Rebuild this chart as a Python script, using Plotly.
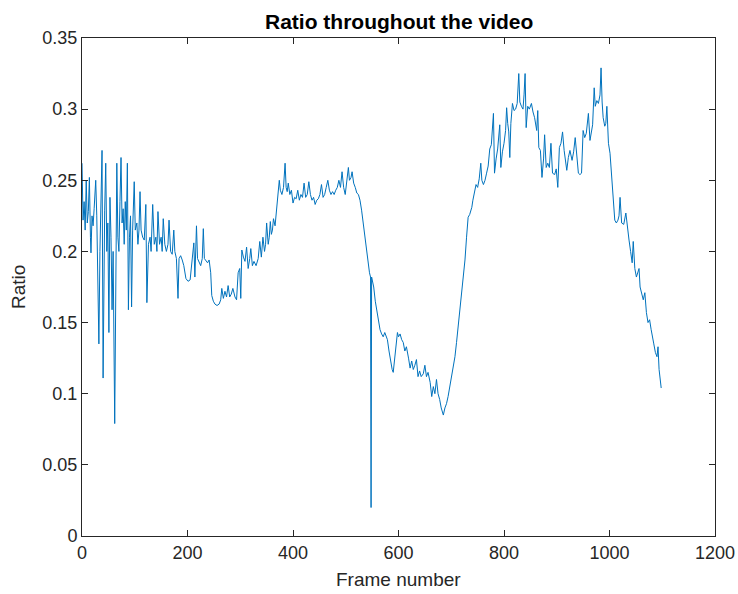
import plotly.graph_objects as go

frames = [0,2,4,6,8,10,12,14,16,17,19,21,23,26,28,30,32,34,36,38,40,42,43,45,47,49,51,53,55,57,59,62,64,66,68,70,72,74,76,78,80,82,84,86,88,90,92,94,96,99,
101,104,106,108,110,112,115,118,121,123,126,129,131,134,137,140,142,144,147,150,152,154,157,160,163,165,168,171,174,176,179,182,184,187,190,193,197,201,205,208,
212,214,217,219,222,225,228,230,232,235,238,241,244,246,249,252,256,260,263,265,268,271,274,277,280,283,286,290,293,296,299,301,303,306,309,312,315,318,320,323,
326,330,334,337,340,343,346,348,350,353,355,357,359,361,363,366,369,372,374,376,379,382,385,387,389,391,394,397,400,403,406,409,412,415,418,421,424,427,430,433,
436,439,442,445,448,451,454,457,460,463,466,469,472,475,478,481,484,487,490,493,496,499,502,505,507,510,512,515,518,521,524,527,530,533,537,540,542,545,547,548,
549,551,553,556,559,562,565,568,571,574,577,579,582,585,588,590,593,596,598,600,603,606,609,612,615,619,622,625,628,631,634,637,640,643,647,650,653,656,660,663,
666,669,672,675,678,681,685,688,691,694,697,700,704,707,710,713,716,720,723,726,729,732,735,739,741,743,745,747,750,753,756,758,761,764,767,770,773,776,780,782,
785,788,792,794,797,800,803,805,807,809,811,813,816,819,822,825,828,830,833,836,838,840,842,845,848,852,855,858,862,864,866,869,872,875,877,880,883,886,889,892,
896,899,902,905,908,911,914,917,919,922,925,929,932,935,938,941,944,947,950,953,956,960,963,966,968,971,973,976,979,982,984,986,988,991,993,995,998,1001,1005,1007,
1010,1013,1016,1018,1020,1023,1027,1031,1034,1037,1040,1043,1045,1048,1051,1054,1056,1058,1061,1064,1067,1070,1073,1076,1079,1081,1084,1087,1090,1092,1094,1098]

ratio = [0.262,0.222,0.235,0.215,0.25,0.22,0.228,0.252,0.21,0.199,0.225,0.218,0.23,0.25,0.225,0.19,0.135,0.2,0.23,0.271,0.111,0.2,0.229,0.262,0.2,0.22,0.143,0.238,0.21,0.159,0.2,0.079,0.18,0.262,0.21,0.2,0.235,0.266,0.22,0.23,0.205,0.235,0.215,0.262,0.159,0.21,0.225,0.161,0.215,0.249,
0.215,0.22,0.205,0.215,0.242,0.215,0.21,0.208,0.233,0.164,0.205,0.21,0.2,0.233,0.205,0.21,0.2,0.228,0.205,0.21,0.2,0.223,0.205,0.2,0.205,0.222,0.2,0.198,0.215,0.2,0.195,0.167,0.195,0.197,0.194,0.19,0.181,0.179,0.18,0.19,
0.206,0.182,0.218,0.195,0.192,0.19,0.195,0.216,0.195,0.193,0.192,0.194,0.185,0.169,0.165,0.163,0.162,0.163,0.166,0.174,0.167,0.172,0.168,0.176,0.168,0.17,0.174,0.168,0.166,0.185,0.188,0.167,0.201,0.196,0.193,0.203,0.188,0.195,0.202,0.19,
0.193,0.19,0.195,0.207,0.196,0.21,0.2,0.205,0.22,0.205,0.21,0.221,0.212,0.215,0.223,0.218,0.231,0.24,0.25,0.243,0.24,0.245,0.262,0.245,0.242,0.248,0.24,0.243,0.234,0.238,0.237,0.243,0.236,0.24,0.238,0.248,0.238,0.24,0.249,0.24,
0.236,0.238,0.233,0.236,0.237,0.24,0.247,0.238,0.24,0.245,0.25,0.243,0.24,0.242,0.24,0.243,0.245,0.25,0.245,0.256,0.245,0.24,0.25,0.259,0.25,0.252,0.256,0.248,0.245,0.241,0.24,0.236,0.229,0.22,0.21,0.2,0.192,0.185,0.182,0.02,
0.182,0.178,0.175,0.165,0.159,0.152,0.145,0.142,0.14,0.143,0.14,0.138,0.13,0.122,0.117,0.115,0.125,0.138,0.143,0.14,0.142,0.138,0.136,0.13,0.133,0.125,0.118,0.123,0.117,0.12,0.124,0.112,0.116,0.112,0.114,0.12,0.112,0.115,0.108,0.098,
0.105,0.1,0.11,0.1,0.096,0.09,0.085,0.09,0.093,0.098,0.105,0.11,0.118,0.126,0.136,0.147,0.157,0.168,0.182,0.194,0.21,0.224,0.226,0.231,0.236,0.24,0.243,0.247,0.245,0.251,0.262,0.25,0.247,0.25,0.255,0.26,0.272,0.275,0.297,0.255,
0.265,0.272,0.289,0.259,0.27,0.276,0.285,0.301,0.29,0.284,0.266,0.29,0.304,0.299,0.3,0.304,0.325,0.305,0.302,0.3,0.31,0.325,0.287,0.302,0.3,0.304,0.298,0.294,0.285,0.299,0.273,0.271,0.252,0.265,0.282,0.259,0.262,0.259,0.276,0.255,
0.254,0.258,0.245,0.273,0.276,0.284,0.271,0.262,0.257,0.266,0.271,0.264,0.27,0.28,0.266,0.255,0.254,0.255,0.285,0.28,0.283,0.297,0.278,0.285,0.289,0.315,0.302,0.306,0.304,0.31,0.329,0.305,0.294,0.288,0.29,0.302,0.276,0.269,0.25,0.241,
0.222,0.22,0.222,0.225,0.238,0.22,0.219,0.227,0.215,0.208,0.2,0.192,0.207,0.188,0.182,0.185,0.188,0.175,0.17,0.166,0.171,0.157,0.15,0.152,0.145,0.14,0.135,0.129,0.126,0.133,0.117,0.104]

x_ticks = [0, 200, 400, 600, 800, 1000, 1200]
y_ticks = [0, 0.05, 0.1, 0.15, 0.2, 0.25, 0.3, 0.35]
y_tick_labels = ["0", "0.05", "0.1", "0.15", "0.2", "0.25", "0.3", "0.35"]

FONT = "Liberation Sans, Arial, sans-serif"
AX = "#262626"

fig = go.Figure()
fig.add_trace(go.Scatter(x=frames, y=ratio, mode="lines",
                         line=dict(color="#0072BD", width=1)))

axis_common = dict(showline=True, linecolor=AX, linewidth=1, mirror="ticks",
                   ticks="inside", ticklen=6, tickcolor=AX, showgrid=False,
                   zeroline=False, automargin=False,
                   tickfont=dict(family=FONT, size=18, color=AX))

fig.update_layout(
    width=738, height=594,
    margin=dict(l=82, r=23, t=38, b=58, autoexpand=False),
    paper_bgcolor="white", plot_bgcolor="white",
    showlegend=False,
    xaxis=dict(range=[0, 1200], tickvals=x_ticks, **axis_common),
    yaxis=dict(range=[0, 0.35], tickvals=y_ticks, ticktext=y_tick_labels, **axis_common),
    annotations=[
        dict(text="<b>Ratio throughout the video</b>", xref="paper", yref="paper",
             x=0.5, y=1, yshift=17, xanchor="center", yanchor="middle", showarrow=False,
             font=dict(family=FONT, size=21, color="black")),
        dict(text="Frame number", xref="paper", yref="paper",
             x=0.5, y=0, yshift=-43, xanchor="center", yanchor="middle", showarrow=False,
             font=dict(family=FONT, size=19, color=AX)),
        dict(text="Ratio", xref="paper", yref="paper", textangle=-90,
             x=0, xshift=-64, y=0.5, xanchor="center", yanchor="middle", showarrow=False,
             font=dict(family=FONT, size=19, color=AX)),
    ],
)

fig.write_html("out.html")
